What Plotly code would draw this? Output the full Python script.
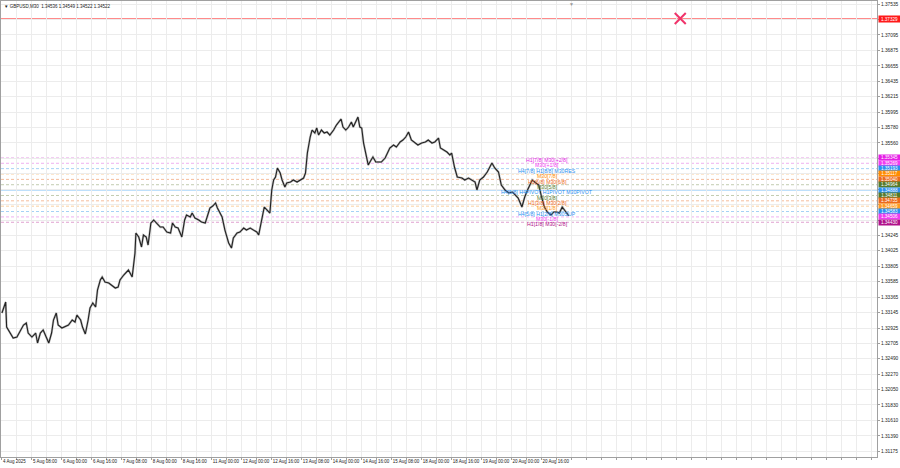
import plotly.graph_objects as go

# ---- price path (M30 bar index, close) ----
bar_index = [0, 4, 5, 9, 12, 16, 20, 23, 26, 28, 32, 36, 38, 41, 44, 47, 50, 53, 55, 58,
             60, 64, 68, 71, 75, 78, 80, 84, 86, 89, 92, 94, 97, 100, 102, 105, 107, 110, 114, 117,
             121, 124, 126, 130, 133, 135, 139, 142, 143, 146, 149, 151, 154, 156, 159, 162, 165, 169, 172, 176,
             180, 182, 185, 188, 192, 195, 197, 201, 203, 206, 210, 213, 217, 220, 222, 225, 228, 230, 233, 235,
             238, 240, 242, 245, 247, 251, 254, 258, 261, 265, 268, 272, 274, 277, 280, 283, 286, 288, 290, 292,
             294, 297, 299, 302, 304, 308, 311, 315, 318, 322, 324, 326, 329, 331, 334, 336, 338, 341, 344, 347,
             350, 354, 357, 360, 362, 364, 367, 370, 373, 375, 378, 380, 382, 384, 386, 388, 391, 394, 396, 399,
             402, 405, 409, 412, 414, 418, 421, 425, 428, 431, 434, 437, 441, 444, 448, 452, 455, 459, 462, 466,
             468, 471, 475, 478, 480, 483, 486, 491, 494, 498, 501, 505, 507, 510, 514, 518, 523, 526, 530, 533,
             537, 541, 545, 548, 551, 555, 558, 561, 564, 566, 570, 573, 576, 579, 582, 586, 589, 592, 595, 598,
             602, 605]
close_price = [1.33139, 1.33295, 1.32939, 1.32854, 1.32783, 1.32797, 1.32897, 1.32968, 1.32996, 1.32854,
               1.32797, 1.32854, 1.32712, 1.32854, 1.32897, 1.32797, 1.32712, 1.32854, 1.33039, 1.33139,
               1.32968, 1.32925, 1.32954, 1.32968, 1.33039, 1.33011, 1.33110, 1.33039, 1.32939, 1.32840,
               1.33039, 1.33210, 1.33281, 1.33224, 1.33466, 1.33608, 1.33651, 1.33580, 1.33565, 1.33537,
               1.33494, 1.33508, 1.33608, 1.33679, 1.33722, 1.33750, 1.33651, 1.33992, 1.34277, 1.34220,
               1.34078, 1.34248, 1.34220, 1.34106, 1.34419, 1.34462, 1.34419, 1.34362, 1.34362, 1.34291,
               1.34277, 1.34419, 1.34362, 1.34348, 1.34220, 1.34462, 1.34533, 1.34504, 1.34561, 1.34490,
               1.34462, 1.34433, 1.34419, 1.34561, 1.34633, 1.34661, 1.34704, 1.34633, 1.34561, 1.34504,
               1.34319, 1.34220, 1.34135, 1.34063, 1.34206, 1.34277, 1.34291, 1.34348, 1.34319, 1.34348,
               1.34319, 1.34291, 1.34248, 1.34462, 1.34647, 1.34604, 1.34561, 1.34889, 1.35031, 1.35074,
               1.35202, 1.35130, 1.35031, 1.34931, 1.34988, 1.35002, 1.35031, 1.35002, 1.35031, 1.35059,
               1.35130, 1.35415, 1.35643, 1.35742, 1.35700, 1.35771, 1.35671, 1.35742, 1.35700, 1.35714,
               1.35671, 1.35742, 1.35813, 1.35856, 1.35899, 1.35785, 1.35742, 1.35785, 1.35856, 1.35785,
               1.35885, 1.35927, 1.35785, 1.35771, 1.35557, 1.35429, 1.35244, 1.35315, 1.35358, 1.35287,
               1.35287, 1.35287, 1.35344, 1.35429, 1.35486, 1.35529, 1.35500, 1.35572, 1.35600, 1.35643,
               1.35714, 1.35600, 1.35557, 1.35529, 1.35557, 1.35572, 1.35600, 1.35557, 1.35572, 1.35628,
               1.35486, 1.35458, 1.35429, 1.35387, 1.35415, 1.35216, 1.35074, 1.35059, 1.35031, 1.35059,
               1.35031, 1.35002, 1.34889, 1.35031, 1.35074, 1.35145, 1.35273, 1.35202, 1.35145, 1.34960,
               1.34889, 1.34846, 1.34860, 1.34817, 1.34775, 1.34647, 1.34789, 1.34889, 1.34988, 1.35031,
               1.34988, 1.34960, 1.34789, 1.34647, 1.34576, 1.34533, 1.34576, 1.34576, 1.34561, 1.34647,
               1.34576, 1.34522]

# ---- axes ----
y_tick_vals = [1.37535, 1.37315, 1.37095, 1.36875, 1.36655, 1.36435, 1.36215, 1.35995, 1.35780, 1.35560,
               1.35340, 1.35120, 1.34900, 1.34680, 1.34460, 1.34245, 1.34025, 1.33805, 1.33585, 1.33365,
               1.33145, 1.32925, 1.32705, 1.32490, 1.32270, 1.32050, 1.31830, 1.31610, 1.31390, 1.31175]
y_tick_hidden = [1.37315, 1.35340, 1.35120, 1.34900, 1.34680, 1.34460]
x_tick_labels = ["4 Aug 2025", "5 Aug 08:00", "6 Aug 00:00", "6 Aug 16:00", "7 Aug 08:00",
                 "8 Aug 00:00", "8 Aug 16:00", "11 Aug 00:00", "12 Aug 00:00", "12 Aug 16:00",
                 "13 Aug 08:00", "14 Aug 00:00", "14 Aug 16:00", "15 Aug 08:00", "18 Aug 00:00",
                 "18 Aug 16:00", "19 Aug 00:00", "20 Aug 00:00", "20 Aug 16:00"]
bars_per_label = 32
x_view = [-1, 934]
y_view = [1.31090, 1.37578]
shift_marker_bar = 608

# ---- Murrey-style levels ----
level_values = [1.35345, 1.35269, 1.35193, 1.35117, 1.35040, 1.34964, 1.34888,
                1.34811, 1.34735, 1.34659, 1.34583, 1.34506, 1.34430]
level_texts = ["H1[7/8] M30[+2/8]", "M30[+1/8]", "H4[7/8] H1[8/8] M30RES", "M30[7/8]",
               "H1[6/8] M30[6/8]", "M30[5/8]", "H4[6/8] H4PIVOT H1PIVOT M30PIVOT", "M30[3/8]",
               "H1[3/8] M30[2/8]", "M30[1/8]", "H4[5/8] H1[2/8] M30SUP", "M30[-1/8]", "H1[1/8] M30[-2/8]"]
level_colors = ["#e61ee6", "#f03cf0", "#2b8ff0", "#ff8c00", "#ec6a1c", "#557a2c", "#2b8ff0",
                "#557a2c", "#ec6a1c", "#ff9a22", "#2b8ff0", "#f03cf0", "#b0128a"]
level_line_colors = ["#eaa6ea", "#f0b0f0", "#a6d2f5", "#fbcc98", "#f5bc9c", "#c2ccb0", "#a8d6fa",
                     "#c2ccb0", "#f5bc9c", "#fbd0a0", "#a6d2f5", "#f0b0f0", "#e0a0d0"]
level_text_bar = 582

alert_price = 1.37329
alert_bar = 724
title_text = "GBPUSD,M30  1.34536 1.34549 1.34522 1.34522"

FONT = "Liberation Sans"

fig = go.Figure()

# wick halo and price line
fig.add_trace(go.Scatter(x=bar_index, y=close_price, mode="lines",
                         line=dict(color="#bdbdbd", width=2.2), hoverinfo="skip"))
fig.add_trace(go.Scatter(x=bar_index, y=close_price, mode="lines",
                         line=dict(color="#222222", width=1.1), hoverinfo="skip"))

# alert cross
fig.add_trace(go.Scatter(x=[alert_bar], y=[alert_price], mode="markers",
                         marker=dict(symbol="x-thin", size=11, line=dict(color="#f0336a", width=2)),
                         hoverinfo="skip"))

shapes = []
for v, c in zip(level_values, level_line_colors):
    pivot = abs(v - 1.34888) < 1e-6
    shapes.append(dict(type="line", xref="paper", x0=0, x1=1, yref="y", y0=v, y1=v,
                       line=dict(color=c, width=1.6 if pivot else 1,
                                 dash="solid" if pivot else "3px,2px"),
                       layer="below"))
shapes.append(dict(type="line", xref="paper", x0=0, x1=1, yref="y", y0=alert_price, y1=alert_price,
                   line=dict(color="#ff8a8a", width=1), layer="below"))

annotations = []
for v, t, c in zip(level_values, level_texts, level_colors):
    annotations.append(dict(x=level_text_bar, y=v, xref="x", yref="y", text=t, showarrow=False,
                            xanchor="center", yanchor="middle", yshift=-2.2,
                            font=dict(family=FONT, size=5.2, color=c)))
    annotations.append(dict(x=1, y=v, xref="paper", yref="y", text=f"{v:.5f}", showarrow=False,
                            xanchor="left", yanchor="middle", xshift=1, width=21, height=5,
                            bgcolor=c, borderpad=0, align="center",
                            font=dict(family=FONT, size=4.6, color="white")))
annotations.append(dict(x=1, y=alert_price, xref="paper", yref="y", text=f"{alert_price:.5f}",
                        showarrow=False, xanchor="left", yanchor="middle", xshift=1, width=21, height=6,
                        bgcolor="#ff1a1a", borderpad=0, align="center",
                        font=dict(family=FONT, size=4.6, color="white")))
annotations.append(dict(x=0, y=1, xref="paper", yref="paper", text="▼ " + title_text, showarrow=False,
                        xanchor="left", yanchor="top", xshift=1, yshift=-1,
                        font=dict(family=FONT, size=4.5, color="#222222")))
annotations.append(dict(x=shift_marker_bar, y=1, xref="x", yref="paper", text="▼", showarrow=False,
                        xanchor="center", yanchor="top", yshift=2,
                        font=dict(family=FONT, size=5, color="#9a9a9a")))

x_tick_vals = list(range(0, x_view[1] + 1, bars_per_label // 2))
x_tick_text = []
for i, _ in enumerate(x_tick_vals):
    k = i // 2
    x_tick_text.append(x_tick_labels[k] if i % 2 == 0 and k < len(x_tick_labels) else "")

y_tick_text = ["" if v in y_tick_hidden else f"{v:.5f}" for v in y_tick_vals]

fig.update_layout(
    width=900, height=468,
    margin=dict(l=1, r=23, t=1, b=11),
    paper_bgcolor="white", plot_bgcolor="white",
    showlegend=False, hovermode=False,
    shapes=shapes, annotations=annotations,
    xaxis=dict(range=x_view, tickmode="array", tickvals=x_tick_vals, ticktext=x_tick_text,
               showgrid=True, gridcolor="#ececec", gridwidth=1, zeroline=False,
               showline=True, linecolor="#a0a0a0", linewidth=1, mirror=True,
               ticks="outside", ticklen=2, tickcolor="#a0a0a0", tickangle=0,
               ticklabelposition="outside right", automargin=False,
               tickfont=dict(family=FONT, size=4.5, color="#222222")),
    yaxis=dict(range=y_view, side="right", tickmode="array", tickvals=y_tick_vals, ticktext=y_tick_text,
               showgrid=True, gridcolor="#ececec", gridwidth=1, zeroline=False,
               showline=True, linecolor="#a0a0a0", linewidth=1, mirror=True,
               ticks="outside", ticklen=2, tickcolor="#a0a0a0", automargin=False,
               tickfont=dict(family=FONT, size=4.8, color="#222222")),
)

fig.write_html("out.html", config={"displayModeBar": False},
               post_script="document.body.style.margin='0px';document.body.style.overflow='hidden';")
